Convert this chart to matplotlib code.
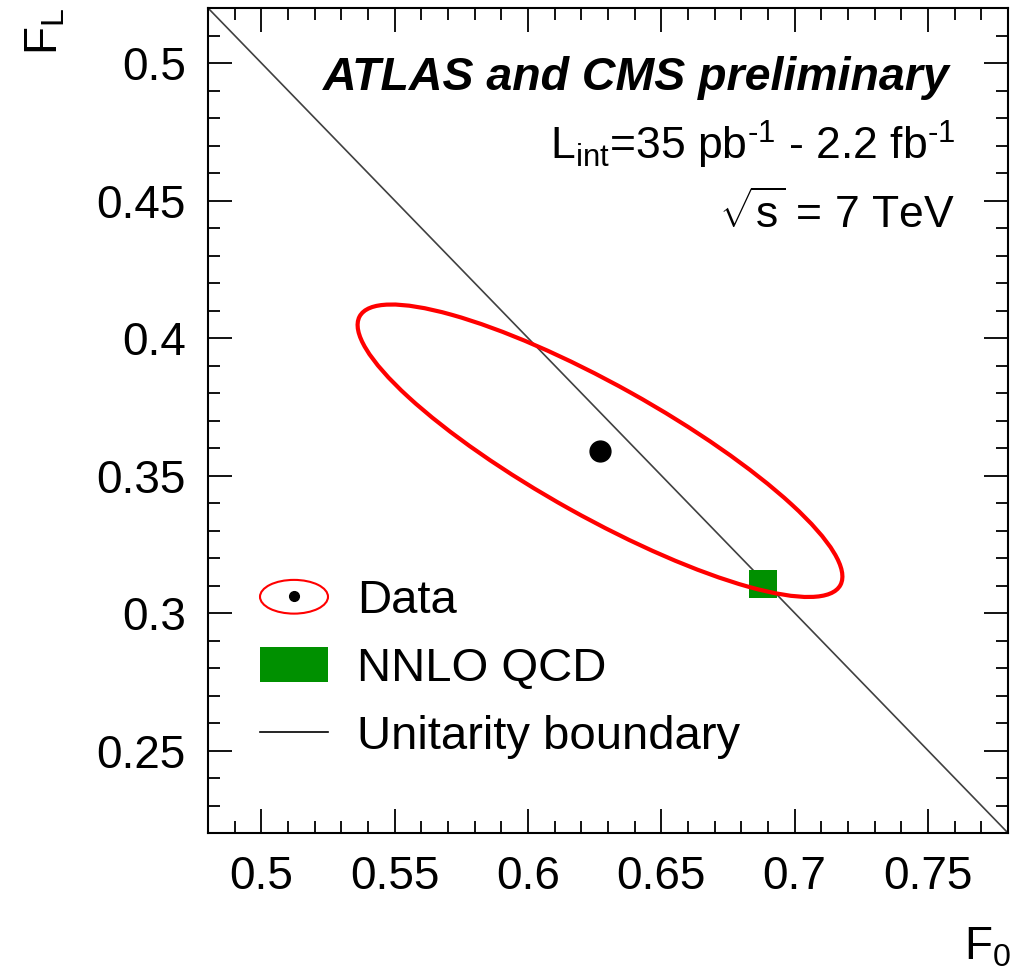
import numpy as np
import matplotlib
matplotlib.use("Agg")
import matplotlib.pyplot as plt
from matplotlib.patches import Ellipse, Rectangle, Patch
from matplotlib.lines import Line2D
from matplotlib.legend_handler import HandlerPatch, HandlerTuple

# ---- data ----
f0_central = 0.627
fl_central = 0.359
sigma_f0 = 0.0600
sigma_fl = 0.0351
rho = -0.86
contour_k = 1.515          # 68% CL, 2 d.o.f.

nnlo_f0 = 0.688
nnlo_fl = 0.3105
nnlo_df0 = 0.0105
nnlo_dfl = 0.0102

xlim = (0.48, 0.78)
ylim = (0.22, 0.52)
xticks = [0.5, 0.55, 0.6, 0.65, 0.7, 0.75]
yticks = [0.25, 0.3, 0.35, 0.4, 0.45, 0.5]
xticklabels = ["0.5", "0.55", "0.6", "0.65", "0.7", "0.75"]
yticklabels = ["0.25", "0.3", "0.35", "0.4", "0.45", "0.5"]
legend_labels = ['Data', 'NNLO QCD', 'Unitarity boundary']

plt.rcParams['font.family'] = ['Liberation Sans', 'DejaVu Sans']
plt.rcParams['mathtext.fontset'] = 'custom'
plt.rcParams['mathtext.rm'] = 'Liberation Sans'
plt.rcParams['mathtext.it'] = 'Liberation Sans:italic'
plt.rcParams['mathtext.bf'] = 'Liberation Sans:bold'

fig = plt.figure(figsize=(10.11, 9.74), dpi=100)
ax = fig.add_axes([208/1011, 1-833/974, 800/1011, 825/974])
ax.set_xlim(*xlim)
ax.set_ylim(*ylim)

# unitarity boundary F0 + FL = 1
bx = np.array(xlim)
ax.plot(bx, 1 - bx, color='#404040', lw=1.2, zorder=2)

# data ellipse from covariance
cov = np.array([[sigma_f0**2, rho*sigma_f0*sigma_fl],
                [rho*sigma_f0*sigma_fl, sigma_fl**2]])
vals, vecs = np.linalg.eigh(cov)
order = vals.argsort()[::-1]
vals, vecs = vals[order], vecs[:, order]
angle = np.degrees(np.arctan2(vecs[1, 0], vecs[0, 0]))
ell = Ellipse((f0_central, fl_central), 2*contour_k*np.sqrt(vals[0]),
              2*contour_k*np.sqrt(vals[1]), angle=angle,
              fill=False, edgecolor='#ff0000', lw=3.0, zorder=4)
ax.add_patch(ell)

# NNLO prediction
rect = Rectangle((nnlo_f0 - nnlo_df0/2, nnlo_fl - nnlo_dfl/2), nnlo_df0, nnlo_dfl,
                 facecolor='#009000', edgecolor='none', zorder=3)
ax.add_patch(rect)

ax.plot([f0_central], [fl_central], 'o', color='black', ms=15, zorder=5)

# ticks
ax.set_xticks(xticks)
ax.set_xticklabels(xticklabels)
ax.set_yticks(yticks)
ax.set_yticklabels(yticklabels)
ax.set_xticks(np.arange(0.48, 0.7801, 0.01), minor=True)
ax.set_yticks(np.arange(0.22, 0.5201, 0.01), minor=True)
ax.tick_params(which='both', direction='in', top=True, right=True, width=1.3,
               colors='black', labelsize=33)
ax.tick_params(which='major', length=17)
ax.tick_params(which='minor', length=8.5)
ax.tick_params(axis='y', pad=16)
ax.tick_params(axis='x', pad=16)
for s in ax.spines.values():
    s.set_linewidth(1.5)

ax.set_xlabel(r'F$_{\rm 0}$', fontsize=33, loc='right')
ax.xaxis.set_label_coords(1.004, -0.112)
ax.set_ylabel(r'F$_{\rm L}$', fontsize=33, loc='top')
ax.yaxis.set_label_coords(-0.176, 1.0)

# texts
fig.text(950/1011, 1-90/974, 'ATLAS and CMS preliminary', fontsize=33.5,
         fontweight='bold', fontstyle='italic', ha='right', va='baseline')
fig.text(955/1011, 1-160/974, r'L$_{\rm int}$=35 pb$^{\text{-1}}$ - 2.2 fb$^{\text{-1}}$',
         fontsize=32, ha='right', va='baseline')
fig.text(955/1011, 1-228/974, r'$\sqrt{\rm s}$ = 7 TeV',
         fontsize=32, ha='right', va='baseline')

# legend
class HandlerEllipse(HandlerPatch):
    def create_artists(self, legend, orig_handle, xdescent, ydescent,
                       width, height, fontsize, trans):
        center = (0.5*width - xdescent, 0.5*height - ydescent)
        p = Ellipse(xy=center, width=width, height=height*0.95,
                    fill=False, edgecolor='#ff0000', lw=1.5)
        p.set_transform(trans)
        return [p]

ell_h = Ellipse((0, 0), 1, 1)
dot_h = Line2D([], [], marker='o', color='black', ms=7, ls='none')
rect_h = Patch(facecolor='#009000', edgecolor='none')
line_h = Line2D([], [], color='black', lw=1.2)

leg = ax.legend([(ell_h, dot_h), rect_h, line_h], legend_labels,
                handler_map={Ellipse: HandlerEllipse(), tuple: HandlerTuple(ndivide=1)},
                loc='upper left', bbox_to_anchor=(52/800, 1-571/825),
                frameon=False, fontsize=34, handlelength=1.44, handleheight=0.78,
                handletextpad=0.61, labelspacing=0.5, borderpad=0, borderaxespad=0)

fig.savefig('out.png', dpi=100)
